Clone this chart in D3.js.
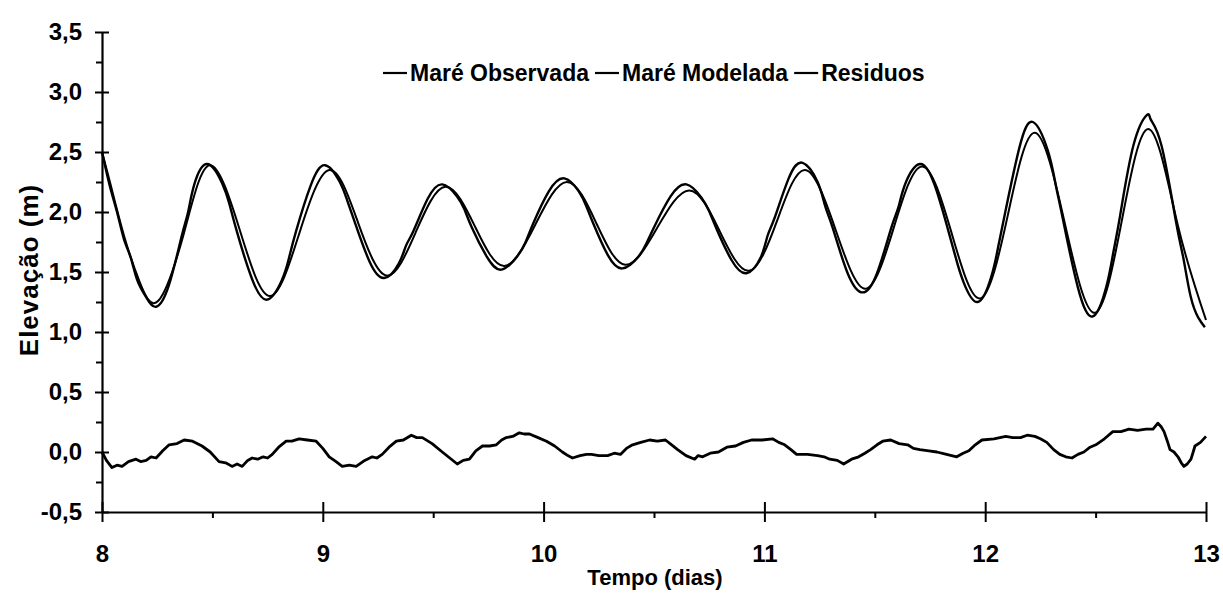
<!DOCTYPE html>
<html>
<head>
<meta charset="utf-8">
<script src="https://cdn.jsdelivr.net/npm/d3@7/dist/d3.min.js"></script>
<style>
  body { margin: 0; background: #fff; }
  svg text { font-family: "Liberation Sans", Arial, sans-serif; font-weight: bold; fill: #000; }
</style>
</head>
<body>
<script>
// Maré observada / modelada / resíduos, dias 8 a 13

// tick labels
var xTicks = [8, 9, 10, 11, 12, 13];
var xMinor = [8.5, 9.5, 10.5, 11.5, 12.5];
var yTicks = [-0.5, 0, 0.5, 1, 1.5, 2, 2.5, 3, 3.5];
var yMinor = [-0.25, 0.25, 0.75, 1.25, 1.75, 2.25, 2.75, 3.25];
var seriesNames = ["Maré Observada", "Maré Modelada", "Residuos"];

var obsDays = [8.000, 8.035, 8.068, 8.100, 8.130, 8.160, 8.200, 8.245, 8.303, 8.361, 8.390, 8.418, 8.476,
  8.544, 8.578, 8.612, 8.680, 8.748, 8.814, 8.846, 8.879, 8.945, 9.010, 9.077, 9.110, 9.144, 9.211, 9.278,
  9.344, 9.377, 9.410, 9.475, 9.541, 9.608, 9.642, 9.675, 9.742, 9.809, 9.880, 9.916, 9.952, 10.023, 10.094,
  10.160, 10.193, 10.226, 10.291, 10.357, 10.430, 10.466, 10.502, 10.575, 10.647, 10.715, 10.749, 10.783,
  10.851, 10.919, 10.983, 11.014, 11.046, 11.110, 11.173, 11.241, 11.275, 11.309, 11.377, 11.445, 11.510,
  11.575, 11.607, 11.639, 11.704, 11.770, 11.835, 11.868, 11.901, 11.966, 12.029, 12.060, 12.091, 12.154,
  12.216, 12.284, 12.318, 12.352, 12.420, 12.488, 12.549, 12.580, 12.611, 12.672, 12.733, 12.750, 12.799,
  12.864, 12.897, 12.930, 12.965, 12.995];
var obsElev = [2.50, 2.22, 2.00, 1.77, 1.62, 1.43, 1.29, 1.21, 1.39, 1.80, 2.00, 2.23, 2.40,
  2.24, 2.06, 1.83, 1.44, 1.27, 1.43, 1.61, 1.84, 2.22, 2.39, 2.25, 2.10, 1.92, 1.59, 1.45,
  1.57, 1.72, 1.84, 2.11, 2.23, 2.13, 2.02, 1.87, 1.63, 1.52, 1.63, 1.74, 1.90, 2.17, 2.28,
  2.17, 2.05, 1.90, 1.64, 1.53, 1.63, 1.74, 1.88, 2.13, 2.23, 2.12, 2.01, 1.86,
  1.60, 1.49, 1.62, 1.80, 1.95, 2.28, 2.41, 2.25, 2.05, 1.87, 1.49, 1.33, 1.49,
  1.87, 2.04, 2.24, 2.40, 2.23, 1.83, 1.61, 1.42, 1.25, 1.47, 1.72, 2.00, 2.53,
  2.75, 2.51, 2.24, 1.94, 1.37, 1.13, 1.38, 1.66, 1.97, 2.56, 2.81, 2.77, 2.55,
  1.92, 1.62, 1.30, 1.12, 1.04];

// modelled tide
var modDays = [8.000, 8.040, 8.100, 8.170, 8.255, 8.372, 8.488, 8.624, 8.760, 8.895, 9.030, 9.160, 9.290,
  9.423, 9.555, 9.689, 9.822, 9.964, 10.105, 10.238, 10.370, 10.515, 10.660, 10.795, 10.930, 11.058, 11.185,
  11.321, 11.457, 11.586, 11.715, 11.847, 11.978, 12.102, 12.225, 12.360, 12.495, 12.619, 12.742, 12.871, 13.000];
var modElev = [2.50, 2.22, 1.80, 1.42, 1.26, 1.83, 2.39, 1.85, 1.30, 1.83, 2.35, 1.91, 1.47,
  1.84, 2.21, 1.88, 1.55, 1.90, 2.25, 1.91, 1.56, 1.87, 2.18, 1.85, 1.51, 1.93, 2.35,
  1.86, 1.36, 1.87, 2.38, 1.83, 1.28, 1.97, 2.66, 1.91, 1.16, 1.93, 2.69, 1.90, 1.10];

// residuals
var resDays = [8.000, 8.020, 8.045, 8.068, 8.091, 8.120, 8.154, 8.175, 8.200, 8.222, 8.245, 8.275, 8.304,
  8.340, 8.372, 8.410, 8.453, 8.490, 8.530, 8.560, 8.589, 8.612, 8.635, 8.660, 8.680, 8.705, 8.730, 8.750,
  8.771, 8.800, 8.834, 8.860, 8.893, 8.930, 8.970, 9.000, 9.029, 9.060, 9.088, 9.120, 9.151, 9.190, 9.224,
  9.245, 9.269, 9.300, 9.333, 9.365, 9.401, 9.425, 9.451, 9.495, 9.541, 9.575, 9.609, 9.636, 9.664, 9.693,
  9.723, 9.755, 9.786, 9.810, 9.831, 9.860, 9.890, 9.912, 9.936, 9.975, 10.013, 10.050, 10.085, 10.110,
  10.131, 10.165, 10.194, 10.217, 10.250, 10.290, 10.320, 10.348, 10.375, 10.403, 10.440, 10.480, 10.515,
  10.552, 10.580, 10.607, 10.645, 10.684, 10.700, 10.720, 10.755, 10.792, 10.830, 10.869, 10.905, 10.942,
  10.990, 11.037, 11.065, 11.092, 11.120, 11.146, 11.195, 11.241, 11.270, 11.296, 11.330, 11.359, 11.395,
  11.427, 11.455, 11.481, 11.510, 11.536, 11.572, 11.610, 11.649, 11.675, 11.704, 11.745, 11.781, 11.825,
  11.871, 11.900, 11.926, 11.955, 11.985, 12.040, 12.093, 12.125, 12.160, 12.190, 12.225, 12.250, 12.279,
  12.310, 12.338, 12.365, 12.393, 12.420, 12.447, 12.475, 12.501, 12.540, 12.578, 12.615, 12.651, 12.690,
  12.728, 12.760, 12.782, 12.797, 12.810, 12.825, 12.837, 12.855, 12.873, 12.888, 12.900, 12.915, 12.932,
  12.942, 12.950, 12.975, 13.000];
var resElev = [0.00, -0.07, -0.13, -0.11, -0.12, -0.08, -0.06, -0.08, -0.07, -0.04, -0.05, 0.01, 0.06,
  0.07, 0.10, 0.09, 0.05, 0.00, -0.08, -0.09, -0.12, -0.10, -0.12, -0.07, -0.05, -0.06, -0.04, -0.05,
  -0.02, 0.04, 0.09, 0.09, 0.11, 0.10, 0.09, 0.03, -0.04, -0.08, -0.12, -0.11, -0.12, -0.07, -0.04,
  -0.05, -0.02, 0.04, 0.09, 0.10, 0.14, 0.12, 0.12, 0.07, 0.00, -0.05, -0.10, -0.07, -0.06, 0.01,
  0.05, 0.05, 0.06, 0.10, 0.12, 0.13, 0.16, 0.15, 0.15, 0.12, 0.09, 0.05, 0.00, -0.03,
  -0.05, -0.03, -0.02, -0.02, -0.03, -0.03, -0.01, -0.02, 0.03, 0.06, 0.08, 0.10, 0.09,
  0.10, 0.06, 0.02, -0.03, -0.06, -0.03, -0.04, -0.01, 0.00, 0.04, 0.05, 0.08, 0.10,
  0.10, 0.11, 0.08, 0.06, 0.02, -0.02, -0.02, -0.03, -0.04, -0.06, -0.07, -0.10, -0.06,
  -0.04, -0.01, 0.02, 0.06, 0.09, 0.10, 0.07, 0.06, 0.03, 0.02, 0.01, 0.00, -0.02,
  -0.04, -0.01, 0.01, 0.06, 0.10, 0.11, 0.13, 0.12, 0.12, 0.14, 0.13, 0.11, 0.08,
  0.02, -0.02, -0.04, -0.05, -0.02, 0.00, 0.04, 0.06, 0.11, 0.17, 0.17, 0.19, 0.18,
  0.19, 0.19, 0.24, 0.21, 0.17, 0.09, 0.02, 0.00, -0.04, -0.09, -0.12, -0.10, -0.06,
  0.00, 0.05, 0.08, 0.13];

var svg = d3.select("body").append("svg")
    .attr("width", 1223)
    .attr("height", 599);

svg.append("rect").attr("width", 1223).attr("height", 599).attr("fill", "#fff");

var x = d3.scaleLinear().domain([8, 13]).range([102, 1206]);
var y = d3.scaleLinear().domain([-0.5, 3.5]).range([512, 32]);

var fmt = function(d) { return d3.format(".1f")(d).replace(".", ",").replace("−", "-"); };

// y axis
var yAxis = svg.append("g")
    .attr("transform", "translate(" + x(8) + ",0)")
    .call(d3.axisLeft(y).tickValues(yTicks).tickSize(7).tickSizeOuter(0).tickPadding(13).tickFormat(fmt));
yAxis.selectAll(".tick").append("line").attr("x2", 7).attr("stroke", "#000");
yAxis.selectAll("line").attr("stroke-width", 2);
yAxis.select(".domain").attr("stroke-width", 2.2);
yAxis.selectAll("text").style("font-size", "24px");

svg.append("g")
    .attr("transform", "translate(" + x(8) + ",0)")
    .call(d3.axisLeft(y).tickValues(yMinor).tickSize(6).tickFormat(""))
    .call(function(g) { g.select(".domain").remove(); })
    .selectAll("line").attr("stroke-width", 2);

// x axis
var xAxis = svg.append("g")
    .attr("transform", "translate(0," + y(-0.5) + ")")
    .call(d3.axisBottom(x).tickValues(xTicks).tickSize(10).tickSizeOuter(0).tickPadding(23).tickFormat(d3.format("d")));
xAxis.selectAll(".tick").append("line").attr("y2", -10).attr("stroke", "#000");
xAxis.selectAll("line").attr("stroke-width", 2);
xAxis.select(".domain").attr("stroke-width", 2.2);
xAxis.selectAll("text").style("font-size", "24px");

svg.append("g")
    .attr("transform", "translate(0," + y(-0.5) + ")")
    .call(d3.axisBottom(x).tickValues(xMinor).tickSize(6).tickFormat(""))
    .call(function(g) { g.select(".domain").remove(); })
    .selectAll("line").attr("stroke-width", 2);

// lines
var line = d3.line()
    .x(function(d) { return x(d[0]); })
    .y(function(d) { return y(d[1]); });

svg.append("path")
    .datum(d3.zip(modDays, modElev))
    .attr("fill", "none").attr("stroke", "#000").attr("stroke-width", 2)
    .attr("d", line.curve(d3.curveNatural));

svg.append("path")
    .datum(d3.zip(obsDays, obsElev))
    .attr("fill", "none").attr("stroke", "#000").attr("stroke-width", 2.4)
    .attr("d", line.curve(d3.curveNatural));

svg.append("path")
    .datum(d3.zip(resDays, resElev))
    .attr("fill", "none").attr("stroke", "#000").attr("stroke-width", 2.8)
    .attr("stroke-linejoin", "round")
    .attr("d", line.curve(d3.curveLinear));

// legend
var legend = svg.append("g");
var lx = 383;
seriesNames.forEach(function(name) {
    legend.append("line")
        .attr("x1", lx).attr("x2", lx + 24)
        .attr("y1", 73).attr("y2", 73)
        .attr("stroke", "#000").attr("stroke-width", 2.2);
    var t = legend.append("text")
        .attr("x", lx + 27).attr("y", 81)
        .style("font-size", "23px")
        .text(name);
    lx = lx + 27 + t.node().getComputedTextLength() + 6;
});

// axis titles
svg.append("text")
    .attr("transform", "translate(29,270) rotate(-90)")
    .attr("text-anchor", "middle")
    .attr("dy", "0.35em")
    .style("font-size", "26px")
    .style("letter-spacing", "1px")
    .text("Elevação (m)");

svg.append("text")
    .attr("x", 655).attr("y", 585)
    .attr("text-anchor", "middle")
    .style("font-size", "22px")
    .text("Tempo (dias)");
</script>
</body>
</html>
